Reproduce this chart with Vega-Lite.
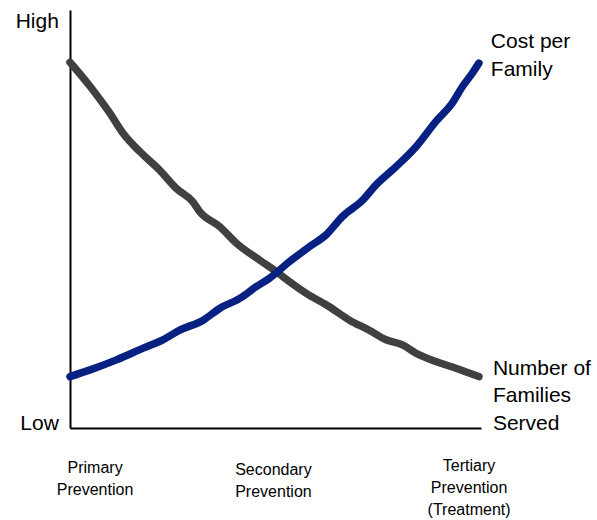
{
  "$schema": "https://vega.github.io/schema/vega-lite/v6.json",
  "autosize": {"type": "none"},
  "width": 411,
  "height": 418,
  "padding": {"left": 70, "top": 10, "right": 116, "bottom": 92},
  "background": "white",
  "config": {"view": {"stroke": null}, "font": "Liberation Sans"},
  "datasets": {
    "curves": [
      {"series": "Number of Families Served", "x": 0, "y": 87.5},
      {"series": "Number of Families Served", "x": 4.9, "y": 81.7},
      {"series": "Number of Families Served", "x": 9.7, "y": 75.3},
      {"series": "Number of Families Served", "x": 12.9, "y": 70.5},
      {"series": "Number of Families Served", "x": 17.0, "y": 66.1},
      {"series": "Number of Families Served", "x": 21.8, "y": 61.7},
      {"series": "Number of Families Served", "x": 25.9, "y": 57.3},
      {"series": "Number of Families Served", "x": 29.9, "y": 54.1},
      {"series": "Number of Families Served", "x": 31.6, "y": 51.7},
      {"series": "Number of Families Served", "x": 36.4, "y": 48.2},
      {"series": "Number of Families Served", "x": 40.5, "y": 44.2},
      {"series": "Number of Families Served", "x": 46.1, "y": 40.2},
      {"series": "Number of Families Served", "x": 50.2, "y": 37.4},
      {"series": "Number of Families Served", "x": 51.8, "y": 36.2},
      {"series": "Number of Families Served", "x": 57.5, "y": 32.2},
      {"series": "Number of Families Served", "x": 63.1, "y": 29.0},
      {"series": "Number of Families Served", "x": 68.0, "y": 25.8},
      {"series": "Number of Families Served", "x": 72.8, "y": 23.4},
      {"series": "Number of Families Served", "x": 76.9, "y": 21.1},
      {"series": "Number of Families Served", "x": 80.9, "y": 19.9},
      {"series": "Number of Families Served", "x": 84.2, "y": 17.9},
      {"series": "Number of Families Served", "x": 89.0, "y": 15.9},
      {"series": "Number of Families Served", "x": 93.9, "y": 14.3},
      {"series": "Number of Families Served", "x": 99.5, "y": 12.3},
      {"series": "Cost per Family", "x": 0, "y": 12.3},
      {"series": "Cost per Family", "x": 4.9, "y": 13.9},
      {"series": "Cost per Family", "x": 11.3, "y": 16.3},
      {"series": "Cost per Family", "x": 17.8, "y": 19.1},
      {"series": "Cost per Family", "x": 22.6, "y": 21.1},
      {"series": "Cost per Family", "x": 26.7, "y": 23.4},
      {"series": "Cost per Family", "x": 32.4, "y": 25.8},
      {"series": "Cost per Family", "x": 36.4, "y": 28.6},
      {"series": "Cost per Family", "x": 41.3, "y": 31.0},
      {"series": "Cost per Family", "x": 45.3, "y": 33.8},
      {"series": "Cost per Family", "x": 48.5, "y": 35.8},
      {"series": "Cost per Family", "x": 53.4, "y": 39.8},
      {"series": "Cost per Family", "x": 58.3, "y": 43.4},
      {"series": "Cost per Family", "x": 62.3, "y": 46.2},
      {"series": "Cost per Family", "x": 66.3, "y": 50.6},
      {"series": "Cost per Family", "x": 71.2, "y": 54.5},
      {"series": "Cost per Family", "x": 74.4, "y": 58.1},
      {"series": "Cost per Family", "x": 79.3, "y": 62.5},
      {"series": "Cost per Family", "x": 84.2, "y": 67.3},
      {"series": "Cost per Family", "x": 89.0, "y": 73.3},
      {"series": "Cost per Family", "x": 93.0, "y": 77.7},
      {"series": "Cost per Family", "x": 95.5, "y": 81.7},
      {"series": "Cost per Family", "x": 97.9, "y": 84.9},
      {"series": "Cost per Family", "x": 99.5, "y": 87.3}
    ],
    "seriesLabels": [
      {"text": "Cost per\nFamily", "x": 102.4, "y": 95.0},
      {"text": "Number of\nFamilies\nServed", "x": 102.9, "y": 16.84}
    ],
    "levelLabels": [
      {"text": "High", "x": -2.7, "y": 99.8},
      {"text": "Low", "x": -2.7, "y": 3.68}
    ],
    "stageLabels": [
      {"text": "Primary\nPrevention", "x": 6.1, "y": -7.6},
      {"text": "Secondary\nPrevention", "x": 49.5, "y": -8.1},
      {"text": "Tertiary\nPrevention\n(Treatment)", "x": 97.1, "y": -7.2}
    ]
  },
  "layer": [
    {
      "data": {"name": "curves"},
      "mark": {"type": "line", "strokeWidth": 7.5, "strokeCap": "round", "strokeJoin": "round", "interpolate": "monotone"},
      "encoding": {
        "x": {"field": "x", "type": "quantitative", "scale": {"domain": [0, 100], "nice": false, "zero": false},
          "axis": {"title": null, "labels": false, "ticks": false, "grid": false, "domain": true, "domainColor": "#000000", "domainWidth": 2}},
        "y": {"field": "y", "type": "quantitative", "scale": {"domain": [0, 100], "nice": false, "zero": false},
          "axis": {"title": null, "labels": false, "ticks": false, "grid": false, "domain": true, "domainColor": "#000000", "domainWidth": 2}},
        "color": {"field": "series", "type": "nominal",
          "scale": {"domain": ["Number of Families Served", "Cost per Family"], "range": ["#404040", "#062182"]},
          "legend": null},
        "detail": {"field": "series"}
      }
    },
    {
      "data": {"name": "seriesLabels"},
      "mark": {"type": "text", "align": "left", "baseline": "top", "fontSize": 21, "lineHeight": 27.8, "lineBreak": "\n", "color": "#000000"},
      "encoding": {
        "x": {"field": "x", "type": "quantitative"},
        "y": {"field": "y", "type": "quantitative"},
        "text": {"field": "text"}
      }
    },
    {
      "data": {"name": "levelLabels"},
      "mark": {"type": "text", "align": "right", "baseline": "top", "fontSize": 21, "color": "#000000"},
      "encoding": {
        "x": {"field": "x", "type": "quantitative"},
        "y": {"field": "y", "type": "quantitative"},
        "text": {"field": "text"}
      }
    },
    {
      "data": {"name": "stageLabels"},
      "mark": {"type": "text", "align": "center", "baseline": "top", "fontSize": 16, "lineHeight": 22, "lineBreak": "\n", "color": "#000000"},
      "encoding": {
        "x": {"field": "x", "type": "quantitative"},
        "y": {"field": "y", "type": "quantitative"},
        "text": {"field": "text"}
      }
    }
  ]
}
